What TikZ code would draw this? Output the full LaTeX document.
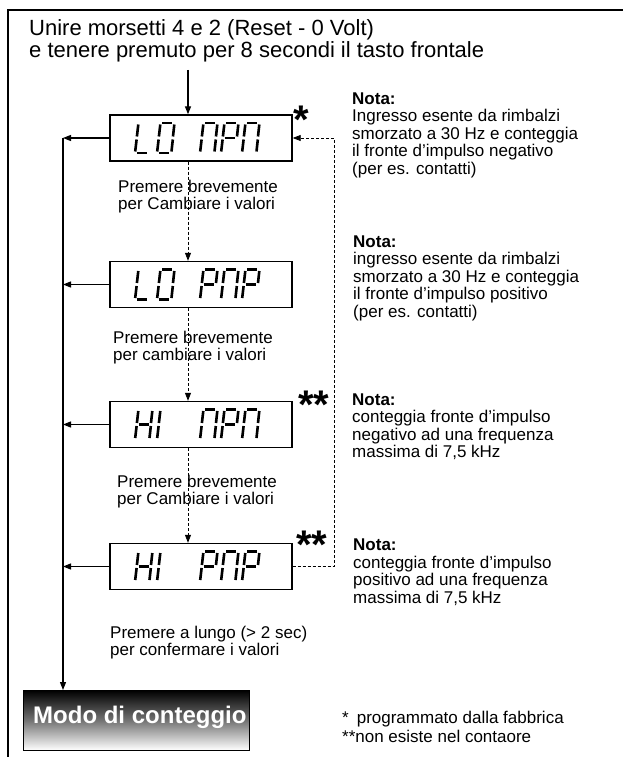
\documentclass[tikz,border=0pt]{standalone}
\usepackage{fontspec}
\setmainfont{Liberation Sans}
\usetikzlibrary{arrows.meta}
% seven-segment glyph: #1 x, #2 baseline y, #3..#9 = segments a..g (1 = on)
\newcommand\glyph[9]{%
  \def\ox{#1}\def\oy{#2}%
  \ifnum#3=1 \draw[segm] ({\ox+5.2},{\oy-30}) -- ({\ox+15.2},{\oy-30});\fi
  \ifnum#4=1 \draw[segm] ({\ox+17.3},{\oy-28.5}) -- ({\ox+16},{\oy-16.5});\fi
  \ifnum#5=1 \draw[segm] ({\ox+15.8},{\oy-13.5}) -- ({\ox+14.5},{\oy-1.5});\fi
  \ifnum#6=1 \draw[segm] ({\ox+1.8},{\oy}) -- ({\ox+11.8},{\oy});\fi
  \ifnum#7=1 \draw[segm] ({\ox+0.2},{\oy-1.5}) -- ({\ox+1.6},{\oy-13.5});\fi
  \ifnum#8=1 \draw[segm] ({\ox+1.9},{\oy-16.5}) -- ({\ox+3.3},{\oy-28.5});\fi
  \ifnum#9=1 \draw[segm] ({\ox+3.6},{\oy-15}) -- ({\ox+13.6},{\oy-15});\fi
}
\newcommand\gL[2]{\glyph{#1}{#2}{0}{0}{0}{1}{1}{1}{0}}
\newcommand\gO[2]{\glyph{#1}{#2}{1}{1}{1}{1}{1}{1}{0}}
\newcommand\gN[2]{\glyph{#1}{#2}{1}{1}{1}{0}{1}{1}{0}}
\newcommand\gP[2]{\glyph{#1}{#2}{1}{1}{0}{0}{1}{1}{1}}
\newcommand\gH[2]{\glyph{#1}{#2}{0}{1}{1}{0}{1}{1}{1}}
\newcommand\gI[2]{\glyph{#1}{#2}{0}{0}{0}{0}{1}{1}{0}}
\begin{document}
\begin{tikzpicture}[x=1pt,y=-1pt,
  segm/.style={line width=2.6pt,line cap=butt},
  disp/.style={draw,line width=1.4pt,minimum width=182pt,minimum height=46pt,inner sep=0pt},
  arr/.style={line width=1.3pt,-{Triangle[length=8pt,width=6pt]}},
  dsh/.style={line width=0.8pt,dash pattern=on 3pt off 2pt},
  darr/.style={dsh,-{Triangle[length=8pt,width=6pt]}},
  small/.style={font=\fontsize{17}{17.5}\selectfont,inner sep=0pt,align=left},
  star/.style={font=\fontsize{40}{40}\bfseries,inner sep=0pt},
  frame/.style={line width=1.5pt}]
\useasboundingbox (0,0) rectangle (623,757);
\fill[white] (0,0) rectangle (623,757);
% frame
\coordinate (ftr) at (623,10);
\coordinate (ftl) at (8,10);
\coordinate (fbl) at (8,757);
\draw[frame] (ftr) -- (ftl) -- (fbl);
% title (base anchor = baseline of last line)
\node[anchor=base west,inner sep=0pt,align=left,font=\fontsize{22}{22}\selectfont] (title) at (29,58)
  {Unire morsetti 4 e 2 (Reset - 0 Volt)\\e tenere premuto per 8 secondi il tasto frontale};
% displays
\node[disp] (d1) at (201,138) {};
\node[disp] (d2) at (201,284.5) {};
\node[disp] (d3) at (201,424.5) {};
\node[disp] (d4) at (201,566.5) {};
\gL{135}{153}\gO{157}{153}\gN{200}{153}\gP{221}{153}\gN{242}{153}
\gL{135}{299.5}\gO{157}{299.5}\gP{200}{299.5}\gN{221}{299.5}\gP{242}{299.5}
\gH{135}{439.5}\gI{157}{439.5}\gN{200}{439.5}\gP{221}{439.5}\gN{242}{439.5}
\gH{135}{581.5}\gI{157}{581.5}\gP{200}{581.5}\gN{221}{581.5}\gP{242}{581.5}
% stars
\node[star,anchor=base] (s1) at (301,134) {*};
\node[star,anchor=base] (s3) at (314,418) {**};
\node[star,anchor=base] (s4) at (312,558) {**};
% top arrow
\coordinate (tstart) at (188,70);
\draw[arr] (tstart) -- (tstart |- d1.north);
% dashed down arrows
\draw[darr] (d1.south -| tstart) -- (d2.north -| tstart);
\draw[darr] (d2.south -| tstart) -- (d3.north -| tstart);
\draw[darr] (d3.south -| tstart) -- (d4.north -| tstart);
% dashed return
\coordinate (rt) at (334,138);
\draw[darr] (d4.east) -- (d4.east -| rt) -- (d1.east -| rt) -- (d1.east);
% helper texts
\node[small,anchor=base west] (h1) at (118,209.5) {Premere brevemente\\per Cambiare i valori};
\node[small,anchor=base west] (h2) at (113,360.5) {Premere brevemente\\per cambiare i valori};
\node[small,anchor=base west] (h3) at (117,504.5) {Premere brevemente\\per Cambiare i valori};
\node[small,anchor=base west] (h4) at (110,655.5) {Premere a lungo (> 2 sec)\\per confermare i valori};
% notes
\node[small,anchor=base west] (n1) at (352,174) {\textbf{Nota:}\\Ingresso esente da rimbalzi\\smorzato a 30 Hz e conteggia\\il fronte d’impulso negativo\\(per es. contatti)};
\node[small,anchor=base west] (n2) at (353,317) {\textbf{Nota:}\\ingresso esente da rimbalzi\\smorzato a 30 Hz e conteggia\\il fronte d’impulso positivo\\(per es. contatti)};
\node[small,anchor=base west] (n3) at (352,457.5) {\textbf{Nota:}\\conteggia fronte d’impulso\\negativo ad una frequenza\\massima di 7,5 kHz};
\node[small,anchor=base west] (n4) at (353,603) {\textbf{Nota:}\\conteggia fronte d’impulso\\positivo ad una frequenza\\massima di 7,5 kHz};
% footer
\node[small,anchor=base west] (f1) at (342,723) {*\hspace{8pt}programmato dalla fabbrica};
\node[small,anchor=base west] (f2) at (342,742) {**non esiste nel contaore};
% Modo di conteggio box
\node[anchor=north west,minimum width=226pt,minimum height=60pt,inner sep=0pt,
  top color=black,bottom color=white,middle color=black!55] (modo) at (23,690) {};
\begin{scope}
\clip (modo.north west) rectangle (modo.south east);
\node[anchor=base west,inner sep=0pt,text=white,font=\fontsize{24}{24}\bfseries\selectfont] (modot) at (33,723) {Modo di conteggio};
\end{scope}
\draw[line width=1pt] (modo.north west) rectangle (modo.south east);
% left collecting line
\coordinate (lt) at (63,138);
\draw[arr] (lt) -- (lt |- modo.north);
\draw[arr] (d1.west) -- (d1.west -| lt);
\draw[arr] (d2.west) -- (d2.west -| lt);
\draw[arr] (d3.west) -- (d3.west -| lt);
\draw[arr] (d4.west) -- (d4.west -| lt);
\end{tikzpicture}
\end{document}
